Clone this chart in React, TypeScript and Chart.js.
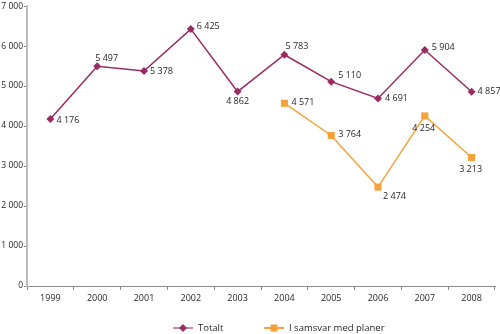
import React, { useEffect, useRef } from "react";
import { Chart, registerables } from "chart.js";

Chart.register(...registerables);

const years = ["1999", "2000", "2001", "2002", "2003", "2004", "2005", "2006", "2007", "2008"];
const totalt = [4176, 5497, 5378, 6425, 4862, 5783, 5110, 4691, 5904, 4857];
const planer = [null, null, null, null, null, 4571, 3764, 2474, 4254, 3213];
const seriesNames = ["Totalt", "I samsvar med planer"];

const PURPLE = "#9a2a62";
const ORANGE = "#f7a13a";
const FONT = "'Open Sans', 'DejaVu Sans', sans-serif";

// label placement per point: [dx, dy, textAlign]
const labelPlacement: any[][] = [
  [
    [6, 1, "left"], [-2, -8, "left"], [6, 0, "left"], [6, -3, "left"], [0, 10, "center"],
    [1, -8, "left"], [7, -6, "left"], [7, 0, "left"], [7, -2, "left"], [6, 0, "left"],
  ],
  [
    [], [], [], [], [],
    [7, -1, "left"], [7, -1, "left"], [5, 9, "left"], [-1, 13, "center"], [-1, 12, "center"],
  ],
];

const fmt = (v: number) => String(v).replace(/\B(?=(\d{3})+(?!\d))/g, " ");

const labelPlugin = {
  id: "pointLabels",
  afterDatasetsDraw(chart: any) {
    const ctx = chart.ctx;
    ctx.save();
    ctx.font = `9px ${FONT}`;
    ctx.fillStyle = "#231f20";
    ctx.textBaseline = "middle";
    chart.data.datasets.forEach((ds: any, di: number) => {
      const meta = chart.getDatasetMeta(di);
      meta.data.forEach((pt: any, i: number) => {
        const v = ds.data[i];
        if (v == null) return;
        const [dx, dy, align] = labelPlacement[di][i];
        ctx.textAlign = align;
        ctx.fillText(fmt(v), pt.x + dx, pt.y + dy);
      });
    });
    ctx.restore();
  },
};

const legendPlugin = {
  id: "customLegend",
  afterDraw(chart: any) {
    const ctx = chart.ctx;
    const y = 328;
    const items = [
      { x: 173, color: PURPLE, diamond: true },
      { x: 264, color: ORANGE, diamond: false },
    ];
    ctx.save();
    items.forEach((it, i) => {
      ctx.strokeStyle = it.color;
      ctx.globalAlpha = i === 0 ? 0.55 : 1;
      ctx.lineWidth = 2;
      ctx.beginPath();
      ctx.moveTo(it.x, y);
      ctx.lineTo(it.x + 20, y);
      ctx.stroke();
      ctx.globalAlpha = 1;
      ctx.fillStyle = it.color;
      const cx = it.x + 10;
      ctx.beginPath();
      if (it.diamond) {
        ctx.moveTo(cx, y - 4);
        ctx.lineTo(cx + 4, y);
        ctx.lineTo(cx, y + 4);
        ctx.lineTo(cx - 4, y);
        ctx.closePath();
      } else {
        ctx.rect(cx - 3.5, y - 3.5, 7, 7);
      }
      ctx.fill();
      ctx.font = `9.5px ${FONT}`;
      ctx.fillStyle = "#231f20";
      ctx.textAlign = "left";
      ctx.textBaseline = "middle";
      ctx.fillText(seriesNames[i], it.x + 25, y);
    });
    ctx.restore();
  },
};

export default function App() {
  const ref = useRef<HTMLCanvasElement>(null);
  useEffect(() => {
    document.body.style.margin = "0";
    const chart = new Chart(ref.current!, {
      type: "line",
      data: {
        labels: years,
        datasets: [
          {
            label: seriesNames[0],
            data: totalt,
            borderColor: PURPLE,
            backgroundColor: PURPLE,
            borderWidth: 1.5,
            pointStyle: "rectRot",
            pointRadius: 4,
            pointBorderWidth: 0,
            tension: 0,
          },
          {
            label: seriesNames[1],
            data: planer,
            borderColor: ORANGE,
            backgroundColor: ORANGE,
            borderWidth: 1.5,
            pointStyle: "rect",
            pointRadius: 5,
            pointBorderWidth: 0,
            tension: 0,
            spanGaps: false,
          },
        ],
      },
      options: {
        animation: false,
        responsive: false,
        maintainAspectRatio: false,
        layout: { padding: { top: -3, right: 4, left: 0, bottom: 0 } },
        plugins: {
          legend: { display: false },
          tooltip: { enabled: false },
        },
        scales: {
          x: {
            offset: true,
            grid: {
              offset: true,
              drawOnChartArea: false,
              drawTicks: true,
              tickLength: 4,
              color: "#8c8c8c",
            },
            border: { color: "#8c8c8c", width: 1 },
            ticks: {
              font: { family: FONT, size: 9 },
              color: "#231f20",
              padding: 3,
              maxRotation: 0,
              autoSkip: false,
            },
            afterFit: (s: any) => {
              s.height = 48;
            },
          },
          y: {
            min: 0,
            max: 7000,
            grid: {
              drawOnChartArea: false,
              drawTicks: true,
              tickLength: 3,
              color: "#8c8c8c",
            },
            border: { color: "#bdbdbd", width: 2 },
            ticks: {
              stepSize: 1000,
              font: { family: FONT, size: 8.5 },
              color: "#231f20",
              padding: 1,
              callback: (v: any) => fmt(Number(v)),
            },
            afterFit: (s: any) => {
              s.width = 27;
            },
          },
        },
      },
      plugins: [labelPlugin, legendPlugin],
    });
    return () => chart.destroy();
  }, []);
  return (
    <div style={{ width: 500, height: 334 }}>
      <canvas ref={ref} width={500} height={334} />
    </div>
  );
}
